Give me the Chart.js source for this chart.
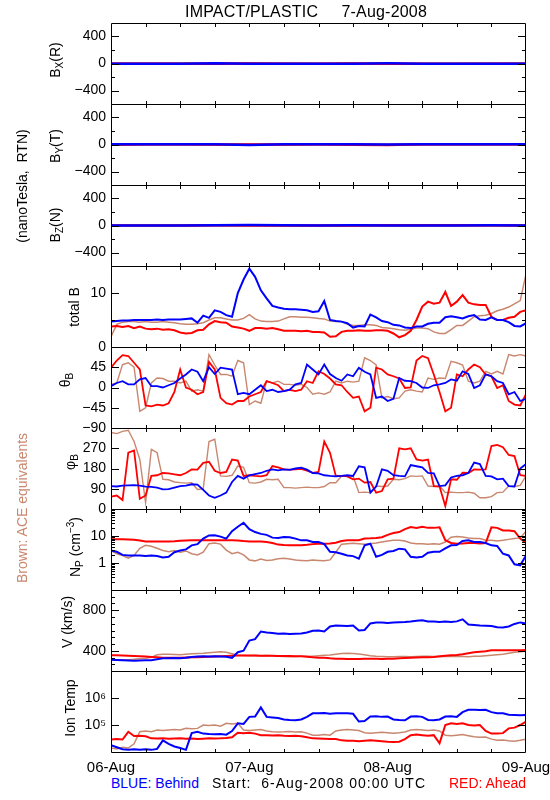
<!DOCTYPE html>
<html><head><meta charset="utf-8">
<script src="https://cdn.jsdelivr.net/npm/chart.js@4/dist/chart.umd.min.js"></script>
<style>
html,body{margin:0;padding:0;background:#fff;}
#wrap{position:relative;width:550px;height:800px;overflow:hidden;background:#fff;font-family:"Liberation Sans",Arial,sans-serif;color:#000;}
canvas.panel{position:absolute;left:0;}
.t{position:absolute;white-space:pre;line-height:1;z-index:5;}
.rot{position:absolute;white-space:pre;line-height:1;font-size:14px;transform:translate(-50%,-50%) rotate(-90deg);z-index:5;}
.rot sub{font-size:10px;vertical-align:-3px;line-height:0;}
.rot sup{font-size:10px;vertical-align:6px;line-height:0;}
</style></head>
<body><div id="wrap">
<div class="t" style="left:185px;top:4px;font-size:16px;letter-spacing:0.2px">IMPACT/PLASTIC     7-Aug-2008</div>
<div class="rot" style="left:55px;top:60px">B<sub>X</sub>(R)</div>
<div class="rot" style="left:55px;top:146px">B<sub>Y</sub>(T)</div>
<div class="rot" style="left:55px;top:225px">B<sub>Z</sub>(N)</div>
<div class="rot" style="left:22px;top:186px">(nanoTesla,  RTN)</div>
<div class="rot" style="left:74px;top:307px">total B</div>
<div class="rot" style="left:65px;top:380px">θ<sub>B</sub></div>
<div class="rot" style="left:70px;top:462px">φ<sub>B</sub></div>
<div class="rot" style="left:22px;top:508px;color:rgb(200,135,110)">Brown: ACE equivalents</div>
<div class="rot" style="left:75px;top:547px">N<sub>P</sub> (cm<sup>−3</sup>)</div>
<div class="rot" style="left:67px;top:622px">V (km/s)</div>
<div class="rot" style="left:70px;top:708px">Ion Temp</div>
<div class="t" style="left:111px;top:776px;font-size:14px;color:#0000ff">BLUE: Behind</div>
<div class="t" style="left:212px;top:776px;font-size:14px;letter-spacing:1px">Start:  6-Aug-2008 00:00 UTC</div>
<div class="t" style="right:24px;top:776px;font-size:14px;color:#ff0000">RED: Ahead</div>
</div>
<script>
// ---------- x values (hours since 06-Aug 00:00 UTC) ----------
const hours = [0,1,2,3,4,5,6,7,8,9,10,11,12,13,14,15,16,17,18,19,20,21,22,23,24,25,26,27,28,29,30,31,32,33,34,35,36,37,38,39,40,41,42,43,44,45,46,47,48,49,50,51,52,53,54,55,56,57,58,59,60,61,62,63,64,65,66,67,68,69,70,71,72];
const hours6 = [0,6,12,18,24,30,36,42,48,54,60,66,72];
const xTickHours = [6,12,18,24,30,36,42,48,54,60,66];
const dayHours = [0,24,48,72];
const dayLabels = ['06-Aug','07-Aug','08-Aug','09-Aug'];

// ---------- B components (nT, RTN), 6-hourly ----------
const bxBlue = [-3,-4,-3,2,-5,-4,-2,-3,3,-2,-4,-3,-2];
const bxRed  = [-3,-2,-3,-2,-1,-2,-2,-1,-2,-5,-4,-3,-5];
const bxAce  = [2,3,3,-1,3,2,1,2,-2,-1,1,3,6];
const byBlue = [3,2,4,3,-8,4,3,2,1,2,3,2,3];
const byRed  = [-2,2,3,1,1,1,2,-5,-6,4,5,4,3];
const byAce  = [-2,-3,-2,-3,-1,-4,-4,-3,-2,-2,-3,-4,-5];
const bzBlue = [1,0,1,3,8,2,1,2,0,-1,1,2,1];
const bzRed  = [1,-1,0,2,-1,0,1,0,2,4,3,2,1];
const bzAce  = [0,1,0,-1,2,0,1,-1,0,1,2,-2,1];

// ---------- total B (nT), hourly ----------
const tbBlue = [4.7,4.8,4.9,4.9,5.0,5.0,5.0,5.0,5.1,5.0,5.1,5.1,5.1,5.2,5.3,4.5,5.8,5.4,6.8,6.5,5.9,5.6,10.0,12.5,14.5,13.0,10.5,9.0,7.6,7.3,7.1,7.0,7.0,6.9,6.8,6.5,6.6,8.5,5.0,4.8,4.7,4.4,3.6,3.9,3.8,6.0,5.5,4.8,4.6,4.1,4.0,3.6,3.5,3.8,3.8,4.3,4.5,4.5,5.5,5.7,5.5,5.3,5.7,5.9,5.1,5.0,5.5,5.0,5.0,4.6,3.9,3.8,4.4];
const tbRed  = [3.8,3.9,3.7,3.9,3.5,3.8,3.4,3.3,3.4,3.2,3.3,3.1,2.7,2.5,2.6,3.1,3.2,4.2,4.8,4.6,4.5,3.8,3.6,3.4,3.0,3.5,3.5,3.4,3.5,3.3,3.0,3.0,3.0,2.9,3.0,2.8,2.8,2.7,1.9,2.0,2.8,3.0,3.0,3.1,3.0,3.0,3.1,3.1,3.0,2.5,1.8,2.2,3.0,5.0,7.5,8.4,8.0,8.2,10.2,7.6,8.4,9.6,8.2,7.9,7.8,7.8,5.6,5.0,5.0,5.4,5.6,6.5,6.8];
const tbAce  = [1.9,4.2,4.6,4.7,4.7,4.6,4.7,4.6,4.6,4.7,4.6,4.5,4.3,4.2,4.2,4.3,4.5,5.0,5.4,5.4,5.2,5.0,5.0,5.3,6.0,5.2,4.8,4.7,4.7,4.8,5.2,5.6,5.6,5.5,5.5,5.4,5.3,5.2,4.8,4.7,4.7,4.2,4.0,4.0,4.1,4.1,4.0,3.6,3.5,3.4,3.2,3.1,3.3,3.5,3.5,3.4,2.8,2.5,2.5,3.2,4.0,4.0,4.8,5.6,5.8,5.9,6.2,6.7,7.0,7.4,8.0,8.6,13.5];

// ---------- theta_B (deg), hourly ----------
const thBlue = [3,10,14,7,7,18,21,3,3,0,5,10,20,29,40,35,14,45,30,44,42,40,-15,-12,-15,-5,5,-8,-5,-10,-8,-5,7,10,51,40,29,51,30,21,15,29,25,44,35,29,-23,-20,-30,-25,21,15,14,10,0,-1,5,7,10,18,15,36,30,-1,5,29,25,14,10,-15,-10,-30,-25];
const thRed  = [44,60,72,70,55,40,-40,-42,-38,-40,-35,-10,40,0,-5,-15,-10,57,40,-23,-35,-38,-30,-30,-20,-15,-10,14,10,5,-8,-5,-8,-5,14,10,36,30,20,7,5,-10,-23,-20,-53,-45,44,40,29,25,20,-1,0,60,70,65,29,-10,-53,-45,29,25,40,51,45,29,25,-1,5,-30,-38,-40,-15];
const thAce  = [7,10,51,55,45,-53,-45,10,21,20,14,14,10,14,-8,-5,-8,73,50,29,29,25,60,55,-38,-30,-35,14,10,14,7,7,5,7,0,-15,-12,-15,-10,14,10,14,12,14,66,60,50,-23,-20,-25,-23,-8,-5,-8,-10,21,18,21,20,58,55,50,14,10,14,36,30,36,30,73,70,73,70];

// ---------- phi_B (deg), hourly ----------
const phBlue = [102,100,104,105,106,104,99,98,95,87,88,95,102,104,110,108,85,60,50,60,73,120,147,135,150,155,160,170,176,172,176,174,180,184,175,160,158,150,147,145,147,150,147,190,185,73,100,176,170,150,147,145,195,190,185,160,158,102,105,140,147,150,160,206,200,147,145,132,135,102,100,180,200];
const phRed  = [55,60,40,250,260,45,60,147,150,160,158,154,150,160,176,175,205,210,170,160,165,220,215,147,150,147,145,150,191,185,176,175,176,178,170,161,165,300,250,147,147,145,132,135,117,120,73,80,132,135,270,265,270,220,215,220,102,100,13,132,130,161,160,176,175,176,280,285,275,240,235,150,147];
const phAce  = [340,335,345,350,300,220,28,265,250,132,130,120,117,115,117,87,90,300,310,147,145,150,191,185,117,115,120,132,130,132,95,95,93,95,97,95,95,100,117,117,147,145,147,73,75,73,102,100,102,132,130,135,147,145,147,102,100,102,73,75,73,73,75,70,50,50,55,73,75,102,100,105,147];

// ---------- proton density (cm^-3), hourly ----------
const npBlue = [2.9,2.6,2.0,1.9,1.9,1.9,1.8,1.9,1.8,1.6,1.7,2.5,2.9,3.2,4.5,5.0,8.0,10.5,10.6,9.5,8.0,15,22,31,18,14,12,11,8.7,8.5,9.2,9.0,8.0,6.9,6.9,6.0,6.0,5.0,2.6,2.5,2.2,1.9,1.8,1.45,4.5,5.2,1.7,2.0,2.6,2.8,3.4,3.2,1.7,1.6,1.7,2.4,2.6,2.6,3.5,4.5,4.6,6.5,6.9,6.0,6.0,5.5,4.5,4.3,2.2,1.9,0.9,0.82,1.9];
const npRed  = [7.5,7.6,7.5,7.4,7.3,6.8,6.3,6.3,6.2,6.3,6.3,6.4,6.6,6.8,6.9,6.9,7.0,6.9,6.9,6.9,7.0,6.9,6.8,6.5,6.3,6.3,6.2,6.0,5.5,4.8,4.6,4.5,4.5,4.5,4.7,5.0,5.2,5.2,5.3,5.6,6.5,6.9,7.0,7.0,8.0,8.2,8.5,9.0,11,12.9,14,18,21.6,20,22,20,20,21,7.0,5.5,5.2,5.3,5.5,5.5,5.3,5.5,21,20,16,16,15,8,5.5];
const npAce  = [2.9,2.2,1.9,1.5,1.9,3.5,4.5,4.2,3.5,2.9,2.6,2.9,2.5,2.8,2.2,2.0,2.5,5.2,5.5,5.0,3.0,2.2,2.5,2.0,1.3,1.2,1.4,1.25,1.3,1.45,1.5,1.4,1.3,1.25,1.2,1.3,1.25,1.2,1.3,2.5,5.0,5.2,5.4,5.2,5.0,5.2,5.5,6.0,6.5,6.9,7.0,6.5,5.5,5.2,5.2,5.0,5.2,5.0,6.0,9.0,9.5,9.2,8.5,8.0,8.0,7.0,6.9,6.5,6.9,7.5,8.0,8.5,15];

// ---------- bulk speed (km/s), hourly ----------
const vBlue = [310,308,305,303,302,303,305,306,315,325,326,328,326,330,338,342,345,342,345,343,340,330,385,400,500,515,590,580,575,568,570,565,568,570,580,598,600,590,640,650,648,645,650,600,605,670,680,678,675,680,682,685,690,697,700,690,688,685,690,685,690,710,660,655,650,648,645,632,630,640,665,680,670];
const vRed  = [355,355,352,350,348,345,342,338,335,332,330,330,332,333,335,336,338,340,342,345,348,350,352,352,352,352,350,350,350,348,348,347,345,345,340,335,332,330,325,322,320,318,318,318,320,320,320,318,320,322,325,328,330,333,335,335,338,345,350,355,358,365,375,385,390,395,405,405,406,406,405,406,408];
const vAce  = [310,308,310,312,315,320,326,335,360,365,365,362,360,365,370,374,375,380,385,390,385,370,355,352,350,352,350,352,350,345,342,340,342,345,345,345,350,355,358,365,372,375,372,368,360,350,345,342,340,340,342,342,340,342,345,345,342,340,342,342,345,342,340,345,345,350,355,360,365,375,385,390,395];

// ---------- ion temperature (K), hourly ----------
const tBlue = [18000,15000,12600,12000,12600,12000,12600,12000,13000,27000,20000,16000,14000,12000,50000,56000,48000,46000,45000,46000,44000,60000,115000,110000,200000,205000,450000,200000,190000,180000,160000,154000,150000,160000,200000,270000,274000,280000,260000,274000,270000,274000,260000,135000,140000,205000,210000,200000,205000,160000,154000,150000,205000,210000,200000,154000,150000,160000,205000,210000,200000,300000,365000,370000,360000,365000,300000,274000,270000,240000,237000,230000,237000];
const tRed  = [29000,30000,29000,56000,39000,40000,38000,32000,31600,32000,31000,31600,32000,31000,31600,30000,31000,32000,31600,32000,33000,35000,52000,50000,52000,48000,42000,42000,41000,42000,40000,39000,40000,38000,35000,32000,31600,31000,30000,30000,27000,26000,26000,25000,26000,27000,26000,25000,24000,23700,24000,30000,42000,44000,42000,40000,42000,21000,100000,115000,110000,115000,100000,95000,100000,60000,48000,48600,50000,75000,80000,100000,133000];
const tAce  = [14000,13000,15000,14000,20000,56000,60000,56000,65000,62000,65000,68000,65000,75000,72000,75000,100000,95000,100000,90000,115000,110000,115000,65000,62000,65000,68000,60000,56000,55000,56000,58000,55000,56000,50000,42000,42000,44000,42000,60000,65000,68000,65000,62000,52000,50000,52000,54000,52000,50000,52000,55000,65000,68000,65000,62000,65000,60000,42000,40000,42000,44000,40000,36500,35000,36000,30000,27400,28000,26000,25000,27000,30000];

// ---------- y tick values / labels ----------
const bTickVals = [-400,0,400];        const bTickLabels = ['−400','0','400'];   const bMinor = [-200,200];
const tbTickVals = [0,10];             const tbTickLabels = ['0','10'];           const tbMinor = [5];
const thTickVals = [-90,-45,0,45];     const thTickLabels = ['−90','−45','0','45']; const thMinor = [];
const phTickVals = [0,90,180,270];     const phTickLabels = ['0','90','180','270']; const phMinor = [];
const npTickVals = [1,10];             const npTickLabels = ['1','10'];
const npMinor = [0.2,0.3,0.4,0.5,0.6,0.7,0.8,0.9,2,3,4,5,6,7,8,9,20,30,40,50,60,70,80,90];
const vTickVals = [400,800];           const vTickLabels = ['400','800'];
const vMinor = [266.67,333.33,466.67,533.33,600,666.67,733.33,866.67,933.33];
const tTickVals = [1e5,1e6];           const tTickLabels = ['10⁵','10⁶'];         const tMinor = [];

const COL = {blue:'#0000ff', red:'#ff0000', ace:'rgb(200,135,110)'};

const panels = [
  {type:'linear', min:-600, max:600, tv:bTickVals, tl:bTickLabels, minor:bMinor, x:hours6, s:[bxBlue,bxRed,bxAce], w:[2.5,2.5,2]},
  {type:'linear', min:-600, max:600, tv:bTickVals, tl:bTickLabels, minor:bMinor, x:hours6, s:[byBlue,byRed,byAce], w:[2.5,2.5,2]},
  {type:'linear', min:-600, max:600, tv:bTickVals, tl:bTickLabels, minor:bMinor, x:hours6, s:[bzBlue,bzRed,bzAce], w:[2.5,2.5,2]},
  {type:'linear', min:0, max:15, tv:tbTickVals, tl:tbTickLabels, minor:tbMinor, x:hours, s:[tbBlue,tbRed,tbAce], w:[2,2,1.5]},
  {type:'linear', min:-90, max:90, tv:thTickVals, tl:thTickLabels, minor:thMinor, x:hours, s:[thBlue,thRed,thAce], w:[1.8,1.8,1.4]},
  {type:'linear', min:0, max:360, tv:phTickVals, tl:phTickLabels, minor:phMinor, x:hours, s:[phBlue,phRed,phAce], w:[1.8,1.8,1.4]},
  {type:'logarithmic', min:0.1, max:100, tv:npTickVals, tl:npTickLabels, minor:npMinor, x:hours, s:[npBlue,npRed,npAce], w:[2,2,1.5]},
  {type:'linear', min:200, max:1000, tv:vTickVals, tl:vTickLabels, minor:vMinor, x:hours, s:[vBlue,vRed,vAce], w:[2,2,1.5]},
  {type:'logarithmic', min:1e4, max:1e7, tv:tTickVals, tl:tTickLabels, minor:tMinor, x:hours, s:[tBlue,tRed,tAce], w:[2,2,1.5]}
];

Chart.defaults.font.family = '"Liberation Sans", Arial, sans-serif';
Chart.defaults.font.size = 14;
Chart.defaults.color = '#000';

const frameTicks = {
  id: 'frameTicks',
  afterDraw(chart, args, o) {
    const {ctx, chartArea: a} = chart;
    const xs = chart.scales.x, ys = chart.scales.y;
    const L = Math.round(a.left), R = Math.round(a.right), T = Math.round(a.top), B = Math.round(a.bottom);
    ctx.save();
    ctx.strokeStyle = '#000';
    ctx.lineWidth = 1;
    ctx.beginPath();
    ctx.moveTo(L + 0.5, T + 0.5); ctx.lineTo(R - 0.5, T + 0.5);
    ctx.lineTo(R - 0.5, B + 0.5); ctx.lineTo(L + 0.5, B + 0.5); ctx.closePath();
    const yTick = (v, len) => {
      const y = Math.round(ys.getPixelForValue(v)) + 0.5;
      if (y <= T + 1 || y >= B) return;
      ctx.moveTo(L, y); ctx.lineTo(L + len, y);
      ctx.moveTo(R, y); ctx.lineTo(R - len, y);
    };
    o.major.forEach(v => yTick(v, 8));
    o.minor.forEach(v => yTick(v, 4));
    o.xt.forEach(h => {
      const x = Math.round(xs.getPixelForValue(h)) + 0.5;
      ctx.moveTo(x, T); ctx.lineTo(x, T + 4);
      ctx.moveTo(x, B + 1); ctx.lineTo(x, B - 3);
    });
    ctx.stroke();
    ctx.restore();
  }
};

const PANEL_TOP = 23, PANEL_H = 81, PAD = 16;
const wrap = document.getElementById('wrap');
let lastChart = null;

panels.forEach((p, i) => {
  const c = document.createElement('canvas');
  c.className = 'panel';
  c.width = 550; c.height = PANEL_H + 2 * PAD;
  c.style.top = (PANEL_TOP + i * PANEL_H - PAD) + 'px';
  c.style.width = '550px'; c.style.height = (PANEL_H + 2 * PAD) + 'px';
  wrap.appendChild(c);
  const names = ['Behind', 'Ahead', 'ACE'];
  const cols = [COL.blue, COL.red, COL.ace];
  const datasets = p.s.map((vals, k) => ({
    label: names[k],
    data: vals.map((v, j) => ({x: p.x[j], y: v})),
    borderColor: cols[k], backgroundColor: cols[k],
    borderWidth: p.w[k], pointRadius: 0, tension: 0, fill: false, clip: 0
  }));
  const labelFor = (v) => {
    const idx = p.tv.findIndex(t => Math.abs(t - v) <= 1e-6 * Math.max(1, Math.abs(t)));
    return idx >= 0 ? p.tl[idx] : '';
  };
  lastChart = new Chart(c, {
    type: 'line',
    data: {datasets},
    options: {
      responsive: false, animation: false, events: [],
      layout: {padding: {top: PAD, bottom: PAD, left: 0, right: 24}},
      plugins: {legend: {display: false}, tooltip: {enabled: false},
                frameTicks: {major: p.tv, minor: p.minor, xt: xTickHours}},
      scales: {
        x: {type: 'linear', min: 0, max: 72, display: false},
        y: {
          type: p.type, min: p.min, max: p.max, position: 'left',
          grid: {display: false, drawTicks: false}, border: {display: false},
          afterFit(s) { s.width = 111; },
          afterBuildTicks(s) { s.ticks = p.tv.map(v => ({value: v})); },
          ticks: {autoSkip: false, padding: 5, color: '#000', font: {size: 14}, callback: (v) => labelFor(v)}
        }
      }
    },
    plugins: [frameTicks]
  });
});

// x-axis day labels under the bottom panel, positioned by the chart's x scale
const xs = lastChart.scales.x;
dayHours.forEach((h, i) => {
  const d = document.createElement('div');
  d.className = 't';
  d.style.fontSize = '15px';
  d.style.top = '759px';
  d.style.left = xs.getPixelForValue(h) + 'px';
  d.style.transform = 'translateX(-50%)';
  d.textContent = dayLabels[i];
  wrap.appendChild(d);
});
</script>
</body></html>
